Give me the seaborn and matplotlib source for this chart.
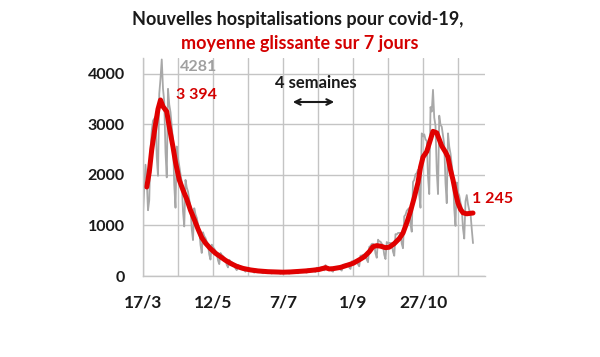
import numpy as np
import pandas as pd
import matplotlib
matplotlib.use("Agg")
import matplotlib.pyplot as plt
from matplotlib.ticker import FuncFormatter, FixedLocator
import matplotlib.dates as mdates
import seaborn as sns

start = pd.Timestamp("2020-03-17")

# daily new hospitalisations (grey), one value per day from 17/3
daily_admissions = [
    1250, 1750, 2200, 1900, 1300, 1500, 2500,
    2875, 3070, 3110, 3150, 2360, 1980, 3600,
    3900, 4281, 3700, 3450, 2450, 1950, 3700,
    3390, 3240, 2950, 2680, 1800, 1350, 2560,
    2320, 2180, 2010, 1860, 1280, 980, 1900,
    1750, 1670, 1510, 1365, 930, 710, 1340,
    1220, 1150, 1020, 910, 615, 455, 865,
    790, 750, 680, 620, 425, 325, 620,
    570, 540, 495, 450, 310, 235, 455,
    415, 395, 360, 325, 220, 170, 320,
    290, 275, 250, 225, 150, 115, 220,
    200, 190, 175, 160, 110, 85, 160,
    145, 145, 130, 125, 85, 65, 130,
    120, 115, 105, 100, 70, 55, 105,
    100, 98, 92, 88, 62, 48, 96,
    92, 90, 86, 80, 57, 45, 90,
    86, 88, 85, 81, 58, 47, 96,
    95, 96, 93, 91, 66, 53, 110,
    107, 110, 107, 105, 77, 64, 133,
    132, 136, 132, 130, 96, 79, 163,
    159, 161, 165, 173, 131, 111, 216,
    173, 150, 145, 142, 104, 84, 174,
    173, 178, 176, 173, 128, 107, 223,
    223, 232, 231, 229, 170, 140, 290,
    288, 301, 304, 305, 229, 192, 402,
    403, 420, 418, 425, 323, 273, 576,
    592, 633, 638, 620, 446, 360, 718,
    684, 679, 638, 600, 420, 335, 672,
    650, 655, 650, 645, 480, 400, 828,
    822, 851, 853, 850, 638, 549, 1180,
    1210, 1290, 1320, 1345, 1030, 875, 1860,
    1900, 2010, 2035, 2100, 1610, 1350, 2820,
    2760, 2800, 2700, 2670, 1970, 1620, 3340,
    3250, 3680, 3130, 2970, 2080, 1620, 3170,
    2990, 2950, 2770, 2600, 1840, 1440, 2820,
    2560, 2420, 2200, 2000, 1330, 990, 1850,
    1650, 1590, 1450, 1340, 940, 740, 1480,
    1600, 1420, 1300, 1240, 930, 650,
]

# 7-day rolling average (red), days after 17/3 and values
avg_days = [3, 5, 7, 10, 12, 14, 16, 19, 21, 24, 26, 29, 32, 35, 38, 41, 44, 47,
            50, 54, 58, 62, 66, 70, 75, 80, 86, 92, 100, 106, 112, 118, 124, 130,
            136, 141, 144, 146, 149, 152, 158, 163, 168, 173, 177, 181, 184, 187, 190,
            194, 197, 201, 205, 208, 211, 214, 217, 220, 222, 224, 227, 230, 232,
            235, 237, 239, 242, 244, 246, 248, 250, 252, 254, 256, 259, 262, 264]
avg_values = [1760, 2050, 2500, 3000, 3300, 3480, 3350, 3250, 2950, 2550, 2250, 1900,
              1700, 1520, 1300, 1120, 930, 760, 650, 540, 450, 380, 310, 250, 190, 150,
              120, 100, 85, 80, 75, 80, 90, 100, 115, 130, 150, 165, 140, 145, 170, 210, 250,
              320, 380, 480, 580, 600, 590, 560, 570, 640, 740, 850, 1050, 1280, 1550,
              1850, 2150, 2350, 2460, 2700, 2860, 2830, 2700, 2570, 2450, 2350, 2100,
              1900, 1650, 1440, 1320, 1250, 1230, 1240, 1245]

tick_labels = ["17/3", "12/5", "7/7", "1/9", "27/10"]
y_ticks = [0, 1000, 2000, 3000, 4000]

daily = pd.DataFrame({
    "date": pd.date_range(start, periods=len(daily_admissions), freq="D"),
    "value": daily_admissions,
})
avg = pd.DataFrame({
    "date": start + pd.to_timedelta(avg_days, unit="D"),
    "value": avg_values,
})

sns.set_style("white")
plt.rcParams["font.family"] = ["Lato", "DejaVu Sans"]
plt.rcParams["font.weight"] = "bold"

fig = plt.figure(figsize=(6.0, 3.57), dpi=100)
ax = fig.add_axes([143 / 600, 1 - 276 / 357, (485 - 143) / 600, (276 - 58) / 357])

grid_c = "#c4c4c4"
sns.lineplot(data=daily, x="date", y="value", ax=ax, color="#a8a8a8", lw=1.3)
sns.lineplot(data=avg, x="date", y="value", ax=ax, color="#e00000", lw=3.6)

ax.set_xlim(start, start + pd.Timedelta(days=273.6))
ax.set_ylim(0, 4310)
ax.set_xlabel("")
ax.set_ylabel("")

grid_dates = [start + pd.Timedelta(days=28 * i) for i in range(10)]
label_dates = [start + pd.Timedelta(days=56 * i) for i in range(len(tick_labels))]
ax.xaxis.set_major_locator(FixedLocator(mdates.date2num(label_dates)))
ax.xaxis.set_minor_locator(FixedLocator(mdates.date2num(grid_dates)))
ax.xaxis.set_major_formatter(FuncFormatter(lambda v, p: tick_labels[p] if p is not None and p < len(tick_labels) else ""))
ax.set_yticks(y_ticks)
ax.set_yticklabels([str(v) for v in y_ticks])

ax.grid(True, which="both", axis="x", color=grid_c, lw=1)
ax.grid(True, which="major", axis="y", color=grid_c, lw=1)
ax.set_axisbelow(True)
for s in ["top", "right"]:
    ax.spines[s].set_visible(False)
for s in ["left", "bottom"]:
    ax.spines[s].set_color(grid_c)
    ax.spines[s].set_linewidth(1)
ax.tick_params(axis="both", which="both", direction="out", length=5, color=grid_c, width=1)
ax.tick_params(axis="x", labelsize=12.5, pad=8, labelcolor="#1a1a1a")
ax.tick_params(axis="y", labelsize=11.5, pad=8, labelcolor="#1a1a1a")
for lab in ax.get_xticklabels() + ax.get_yticklabels():
    lab.set_fontweight("bold")

fig.text(298 / 600, 1 - 20 / 357, "Nouvelles hospitalisations pour covid-19,",
         ha="center", va="center", fontsize=13, fontweight="bold", color="#1a1a1a")
fig.text(300 / 600, 1 - 44 / 357, "moyenne glissante sur 7 jours",
         ha="center", va="center", fontsize=13, fontweight="bold", color="#d40000")
fig.text(180 / 600, 1 - 67 / 357, "4281", ha="left", va="center",
         fontsize=11.5, fontweight="bold", color="#a0a0a0")
fig.text(176 / 600, 1 - 95 / 357, "3 394", ha="left", va="center",
         fontsize=11.5, fontweight="bold", color="#d40000")
fig.text(316 / 600, 1 - 83 / 357, "4 semaines", ha="center", va="center",
         fontsize=12, fontweight="bold", color="#1a1a1a")
fig.text(472 / 600, 1 - 199 / 357, "1 245", ha="left", va="center",
         fontsize=11.5, fontweight="bold", color="#d40000")
ax.annotate("", xy=(337 / 600, 1 - 102 / 357), xytext=(290 / 600, 1 - 102 / 357),
            xycoords="figure fraction", textcoords="figure fraction",
            arrowprops=dict(arrowstyle="<->", color="#1a1a1a", lw=1.5))

fig.savefig("out.png", dpi=100)
